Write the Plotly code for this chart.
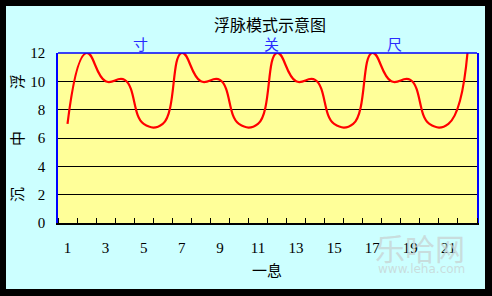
import plotly.graph_objects as go

# Data
categories = list(range(1, 23))
values = [7, 12, 10, 10.1, 7,
          7, 12, 10, 10.1, 7,
          7, 12, 10, 10.1, 7,
          7, 12, 10, 10.1, 7,
          7, 12]
x_tick_labels = [1, 3, 5, 7, 9, 11, 13, 15, 17, 19, 21]
y_ticks = [0, 2, 4, 6, 8, 10, 12]
title_text = "浮脉模式示意图"
x_title = "一息"
pulse_positions = ["寸", "关", "尺"]
depth_labels = ["浮", "中", "沉"]

W, H = 492, 296
L, R, T, B = 58, 15, 53, 73
pw, ph = W - L - R, H - T - B

def px(xp):
    return (xp - L) / pw

def py(yp):
    return (H - B - yp) / ph

CJK = "Noto Sans CJK SC"
SERIF = "Liberation Serif"

fig = go.Figure()
fig.add_trace(go.Scatter(
    x=categories, y=values, mode="lines",
    line=dict(color="#ff0000", width=2.2, shape="spline", smoothing=1.3),
    hoverinfo="skip", showlegend=False,
))

annotations = [
    dict(text=title_text, x=px(270), y=py(24), font=dict(family=CJK, size=16, color="black")),
    dict(text=x_title, x=px(267), y=py(269), font=dict(family=CJK, size=15, color="black")),
]
for t, xp in zip(pulse_positions, [140, 271, 394]):
    annotations.append(dict(text=t, x=px(xp), y=py(43), font=dict(family=CJK, size=15, color="#2a2aff")))
for t, yp in zip(depth_labels, [82, 139, 195]):
    annotations.append(dict(text=t, x=px(16), y=py(yp), textangle=-90, font=dict(family=CJK, size=15, color="black")))
# watermark
annotations.append(dict(text="乐哈网", x=px(420), y=py(247), font=dict(family=CJK, size=30, color="rgba(200,212,212,0.8)")))
annotations.append(dict(text="www.leha.com", x=px(421), y=py(269), font=dict(family="DejaVu Sans", size=12, color="rgba(200,212,212,0.8)")))
for a in annotations:
    a.update(xref="paper", yref="paper", showarrow=False, xanchor="center", yanchor="middle")

shapes = [
    # blue top border of plot area
    dict(type="line", xref="paper", yref="paper", x0=0, x1=1, y0=1, y1=1, line=dict(color="#0000ff", width=1.5)),
    # black outer frame
    dict(type="rect", xref="paper", yref="paper",
         x0=px(2.5), x1=px(488.5), y0=py(292.5), y1=py(2.5),
         line=dict(color="black", width=7)),
]

fig.update_layout(
    width=W, height=H,
    margin=dict(l=L, r=R, t=T, b=B),
    paper_bgcolor="#ccffff",
    plot_bgcolor="#ffff99",
    annotations=annotations,
    shapes=shapes,
    showlegend=False,
    xaxis=dict(
        range=[0.5, 22.5],
        tickmode="array", tickvals=x_tick_labels, ticktext=[str(v) for v in x_tick_labels],
        ticks="", showgrid=False, zeroline=False,
        showline=True, linecolor="black", linewidth=1.5,
        tickfont=dict(family=SERIF, size=15, color="black"),
        ticklabelstandoff=10,
        minor=dict(tickmode="array", tickvals=[i + 0.5 for i in range(0, 23)],
                   ticks="inside", ticklen=5, tickcolor="black", tickwidth=1, showgrid=False),
        fixedrange=True,
    ),
    yaxis=dict(
        range=[0, 12],
        tickmode="array", tickvals=y_ticks, ticktext=[str(v) for v in y_ticks],
        ticks="", showgrid=True, gridcolor="black", gridwidth=1, zeroline=False,
        showline=True, linecolor="#0000ff", linewidth=1.5, mirror=True,
        tickfont=dict(family=SERIF, size=15, color="black"),
        ticklabelstandoff=8,
        fixedrange=True,
    ),
)

fig.write_html("out.html")
